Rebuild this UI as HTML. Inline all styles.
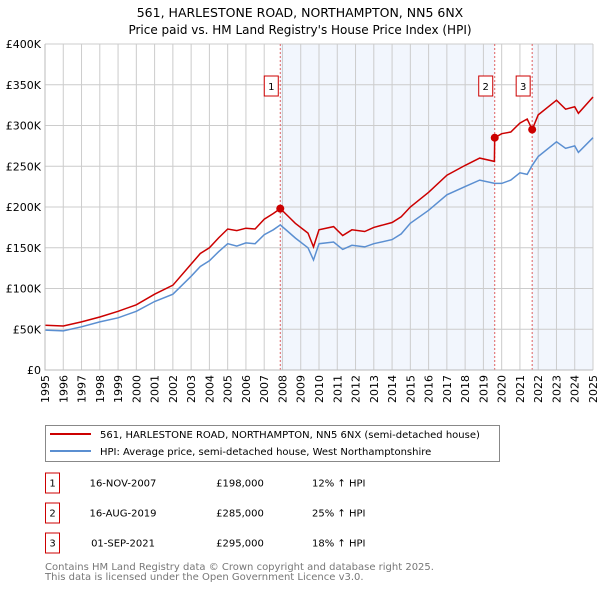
<!DOCTYPE html>
<html><head><meta charset="utf-8"><style>
body{margin:0;background:#fff;width:600px;height:590px;overflow:hidden;font-family:"DejaVu Sans","Liberation Sans",sans-serif;}
svg text{font-family:"DejaVu Sans","Liberation Sans",sans-serif;}
</style></head><body>
<svg id="chart" width="600" height="590" xmlns="http://www.w3.org/2000/svg">
<text x="300" y="17" text-anchor="middle" font-size="12.5" fill="#000">561, HARLESTONE ROAD, NORTHAMPTON, NN5 6NX</text>
<text x="300" y="34" text-anchor="middle" font-size="12" fill="#000">Price paid vs. HM Land Registry's House Price Index (HPI)</text>
<g id="plot"></g>
<g>
<rect x="45.5" y="425.5" width="454" height="36" fill="#fff" stroke="#888"/>
<line x1="50" y1="434" x2="91" y2="434" stroke="#cc0000" stroke-width="2"/>
<text x="100" y="438" font-size="10">561, HARLESTONE ROAD, NORTHAMPTON, NN5 6NX (semi-detached house)</text>
<line x1="50" y1="451" x2="91" y2="451" stroke="#5b8fd1" stroke-width="2"/>
<text x="100" y="455" font-size="10">HPI: Average price, semi-detached house, West Northamptonshire</text>
</g>
<g id="table" font-size="10"></g>
<text x="45" y="570" font-size="10" fill="#777">Contains HM Land Registry data © Crown copyright and database right 2025.</text>
<text x="45" y="580" font-size="10" fill="#777">This data is licensed under the Open Government Licence v3.0.</text>
</svg>
<script>
const hpiYears=[1995,1996,1997,1998,1999,2000,2001,2002,2003,2003.5,2004,2004.5,2005,2005.5,2006,2006.5,2007,2007.5,2007.88,2008.3,2008.7,2009.4,2009.7,2010,2010.8,2011.3,2011.8,2012.5,2013,2014,2014.5,2015,2016,2017,2018,2018.8,2019.62,2020,2020.5,2021,2021.4,2021.67,2022,2023,2023.5,2024,2024.2,2025];
const hpiValues=[49,48,53,59,64,72,84,93,115,127,134,145,155,152,156,155,166,172,178,170,162,150,135,155,157,148,153,151,155,160,167,180,196,215,225,233,229,229,233,242,240,251,262,280,272,275,267,285];
const priceYears=[1995,1996,1997,1998,1999,2000,2001,2002,2003,2003.5,2004,2004.5,2005,2005.5,2006,2006.5,2007,2007.5,2007.88,2008.3,2008.7,2009.4,2009.7,2010,2010.8,2011.3,2011.8,2012.5,2013,2014,2014.5,2015,2016,2017,2018,2018.8,2019.6,2019.62,2020,2020.5,2021,2021.4,2021.67,2022,2023,2023.5,2024,2024.2,2025];
const priceValues=[55,54,59,65,72,80,93,104,130,143,150,162,173,171,174,173,185,192,198,189,180,168,151,172,176,165,172,170,175,181,188,200,218,239,251,260,256,285,290,292,303,308,295,313,331,320,323,315,335];
const saleLabels=["1","2","3"];
const saleYears=[2007.88,2019.62,2021.67];
const saleValues=[198,285,295];
const saleDates=["16-NOV-2007","16-AUG-2019","01-SEP-2021"];
const salePrices=["£198,000","£285,000","£295,000"];
const saleDiffs=["12% ↑ HPI","25% ↑ HPI","18% ↑ HPI"];
const yTicks=[0,50,100,150,200,250,300,350,400];
const yTickLabels=["£0","£50K","£100K","£150K","£200K","£250K","£300K","£350K","£400K"];
const xTicks=[1995,1996,1997,1998,1999,2000,2001,2002,2003,2004,2005,2006,2007,2008,2009,2010,2011,2012,2013,2014,2015,2016,2017,2018,2019,2020,2021,2022,2023,2024,2025];

const NS="http://www.w3.org/2000/svg";
const L=45,R=593,T=44,B=370;
const X=y=>L+(y-1995)/30*(R-L);
const Y=v=>B-v/400*(B-T);
const plot=document.getElementById('plot');
function mk(tag,attrs,parent){const e=document.createElementNS(NS,tag);for(const k in attrs)e.setAttribute(k,attrs[k]);(parent||plot).appendChild(e);return e;}
// shading
let s1=mk('rect',{x:X(saleYears[0]),y:T,width:X(saleYears[1])-X(saleYears[0]),height:B-T,fill:'#f2f6fd'});


let s2=mk('rect',{x:X(saleYears[2]),y:T,width:R-X(saleYears[2]),height:B-T,fill:'#f2f6fd'});


// grid
xTicks.forEach((t,i)=>{
 let g=mk('line',{x1:X(t),x2:X(t),y1:T,y2:B,stroke:'#cccccc','stroke-width':1});
 
 
 let tx=mk('text',{x:0,y:0,'font-size':11,'text-anchor':'end',transform:`translate(${X(t)+4},${B+5}) rotate(-90)`});
 tx.textContent=t;
 
 
});
yTicks.forEach((t,i)=>{
 let g=mk('line',{x1:L,x2:R,y1:Y(t),y2:Y(t),stroke:'#cccccc','stroke-width':1});
 
 
 let tx=mk('text',{x:L-4,y:Y(t)+4,'font-size':11,'text-anchor':'end'});
 tx.textContent=yTickLabels[i];
 
 
});
// sale vlines
saleYears.forEach((y,i)=>{
 let v=mk('line',{x1:X(y),x2:X(y),y1:T,y2:B,stroke:'#e06060','stroke-width':1,'stroke-dasharray':'2,2'});
 
 
});
function path(xs,vs){return xs.map((x,i)=>(i?'L':'M')+X(x).toFixed(1)+','+Y(vs[i]).toFixed(1)).join(' ');}
let hp=mk('path',{d:path(hpiYears,hpiValues),fill:'none',stroke:'#5b8fd1','stroke-width':1.5});


let pp=mk('path',{d:path(priceYears,priceValues),fill:'none',stroke:'#cc0000','stroke-width':1.5});


saleYears.forEach((y,i)=>{
 let c=mk('circle',{cx:X(y),cy:Y(saleValues[i]),r:4,fill:'#cc0000'});
 
 
 let bx=mk('rect',{x:X(y)-16,y:T+32,width:14,height:20,fill:'#fff',stroke:'#cc0000'});
 
 
 let t=mk('text',{x:X(y)-9,y:T+46,'font-size':10,'text-anchor':'middle'});
 t.textContent=saleLabels[i];
 
 
});
// axes border
let ax=mk('path',{d:`M${L},${T} L${L},${B} L${R},${B}`,fill:'none',stroke:'#bbb'});


// table
const tb=document.getElementById('table');
saleLabels.forEach((l,i)=>{
 const cy=483+i*30;
 let b=mk('rect',{x:45.5,y:cy-10,width:14,height:20,fill:'#fff',stroke:'#cc0000'},tb);
 
 
 let t=mk('text',{x:52.5,y:cy+3.5,'text-anchor':'middle'},tb);t.textContent=l;
 
 
 let d=mk('text',{x:123,y:cy+3.5,'text-anchor':'middle'},tb);d.textContent=saleDates[i];
 
 
 let p=mk('text',{x:240,y:cy+3.5,'text-anchor':'middle'},tb);p.textContent=salePrices[i];
 
 
 let h=mk('text',{x:312,y:cy+3.5},tb);h.textContent=saleDiffs[i];
 
 
});
</script>
</body></html>
